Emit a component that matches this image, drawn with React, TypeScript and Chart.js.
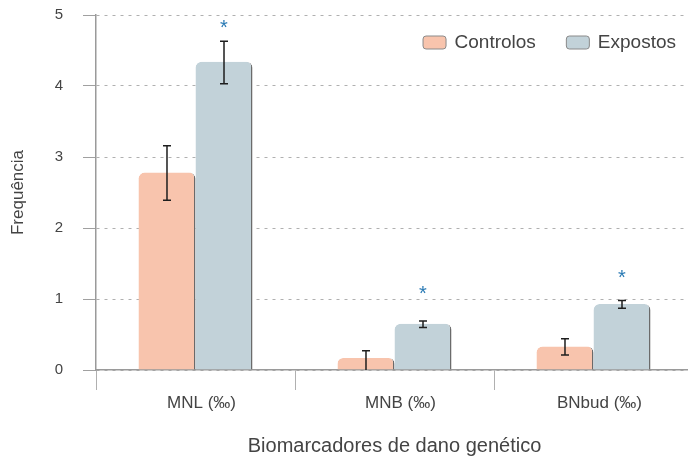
import React, { useEffect, useRef } from "react";
import { Chart, registerables } from "chart.js";

Chart.register(...registerables);

const categories = ["MNL (‰)", "MNB (‰)", "BNbud (‰)"];
const seriesNames = ["Controlos", "Expostos"];
const controlos = [2.78, 0.17, 0.33];
const expostos = [4.34, 0.65, 0.93];
const controlosLow = [2.39, -0.05, 0.21];
const controlosHigh = [3.16, 0.27, 0.44];
const expostosLow = [4.03, 0.6, 0.87];
const expostosHigh = [4.63, 0.69, 0.98];
const starPositions = [4.86, 1.11, 1.34];
const yTicks = [0, 1, 2, 3, 4, 5];

const FONT = '"Liberation Sans", Arial, Helvetica, sans-serif';
const controlosColor = "#f8c4ad";
const expostosColor = "#c2d2d9";
const textColor = "#444444";

const errorBarsPlugin = {
  id: "errorBars",
  afterDatasetsDraw(chart: any) {
    const ctx = chart.ctx;
    const y = chart.scales.y;
    const area = chart.chartArea;
    const lows = [controlosLow, expostosLow];
    const highs = [controlosHigh, expostosHigh];
    ctx.save();
    ctx.beginPath();
    ctx.rect(area.left, area.top - 20, area.right - area.left, area.bottom - area.top + 20);
    ctx.clip();
    ctx.strokeStyle = "#1e1e1e";
    ctx.lineWidth = 1.5;
    chart.data.datasets.forEach((_ds: any, di: number) => {
      const meta = chart.getDatasetMeta(di);
      meta.data.forEach((el: any, j: number) => {
        const x = el.x;
        const yl = y.getPixelForValue(lows[di][j]);
        const yh = y.getPixelForValue(highs[di][j]);
        ctx.beginPath();
        ctx.moveTo(x, yl);
        ctx.lineTo(x, yh);
        ctx.moveTo(x - 4, yh);
        ctx.lineTo(x + 4, yh);
        ctx.moveTo(x - 4, yl);
        ctx.lineTo(x + 4, yl);
        ctx.stroke();
      });
    });
    ctx.restore();

    // significance stars
    const meta = chart.getDatasetMeta(1);
    ctx.save();
    ctx.fillStyle = "#2b7bb5";
    ctx.font = `20px ${FONT}`;
    ctx.textAlign = "center";
    ctx.textBaseline = "alphabetic";
    meta.data.forEach((el: any, j: number) => {
      const yc = y.getPixelForValue(starPositions[j]);
      ctx.fillText("*", el.x, yc + 9);
    });
    ctx.restore();
  },
};

const legendPlugin = {
  id: "customLegend",
  afterDraw(chart: any) {
    const ctx = chart.ctx;
    const area = chart.chartArea;
    const colors = [controlosColor, expostosColor];
    ctx.save();
    ctx.font = `19px ${FONT}`;
    ctx.textBaseline = "middle";
    ctx.textAlign = "left";
    const boxW = 23;
    const boxH = 13;
    const gap = 9;
    const itemGap = 30;
    const widths = seriesNames.map((n) => boxW + gap + ctx.measureText(n).width);
    const total = widths.reduce((a, b) => a + b, 0) + itemGap * (seriesNames.length - 1);
    let x = area.right - 17 - total;
    const yc = area.top + 27;
    seriesNames.forEach((name, i) => {
      ctx.beginPath();
      ctx.roundRect(x + 0.5, yc - boxH / 2 + 0.5, boxW, boxH, 3);
      ctx.fillStyle = colors[i];
      ctx.fill();
      ctx.strokeStyle = "#8a8a8a";
      ctx.lineWidth = 1;
      ctx.stroke();
      ctx.fillStyle = textColor;
      ctx.fillText(name, x + boxW + gap, yc + 1);
      x += widths[i] + itemGap;
    });
    ctx.restore();
  },
};

export default function App() {
  const ref = useRef<HTMLCanvasElement | null>(null);

  useEffect(() => {
    document.body.style.margin = "0";
    if (!ref.current) return;
    Chart.defaults.font.family = FONT;
    const chart = new Chart(ref.current, {
      type: "bar",
      data: {
        labels: categories,
        datasets: [
          {
            label: seriesNames[0],
            data: controlos,
            backgroundColor: controlosColor,
            borderColor: "#6a6a6a",
            borderWidth: { top: 0, left: 0, bottom: 0, right: 1.5 },
            borderRadius: { topLeft: 6, topRight: 6, bottomLeft: 0, bottomRight: 0 },
            borderSkipped: false,
          },
          {
            label: seriesNames[1],
            data: expostos,
            backgroundColor: expostosColor,
            borderColor: "#6a6a6a",
            borderWidth: { top: 0, left: 0, bottom: 0, right: 1.5 },
            borderRadius: { topLeft: 6, topRight: 6, bottomLeft: 0, bottomRight: 0 },
            borderSkipped: false,
          },
        ],
      },
      options: {
        responsive: false,
        animation: false,
        devicePixelRatio: 1,
        layout: { padding: { top: 15, right: 0, left: 0, bottom: 0 } },
        datasets: {
          bar: { categoryPercentage: 0.573, barPercentage: 1.0 },
        },
        plugins: {
          legend: { display: false },
          tooltip: { enabled: false },
        },
        scales: {
          x: {
            afterFit: (s: any) => {
              s.height = 86;
              s.paddingLeft = 0;
              s.paddingRight = 0;
            },
            grid: {
              offset: true,
              drawOnChartArea: false,
              drawTicks: true,
              tickLength: 20,
              color: "#b0b0b0",
            },
            border: { color: "#9a9a9a", width: 1.5 },
            ticks: {
              color: textColor,
              font: { size: 17 },
              padding: 3,
              labelOffset: 6,
            },
            title: {
              display: true,
              text: "Biomarcadores de dano genético",
              color: textColor,
              font: { size: 20, lineHeight: 1 },
              padding: { top: 0, bottom: 0 },
            },
          },
          y: {
            min: 0,
            max: 5,
            afterFit: (s: any) => {
              s.width = 96;
              s.paddingTop = 0;
              s.paddingBottom = 0;
            },
            afterBuildTicks: (s: any) => {
              s.ticks = yTicks.map((v) => ({ value: v }));
            },
            grid: {
              color: "#b0b0b0",
              tickLength: 13,
              tickColor: "#a0a0a0",
            },
            border: { display: true, color: "#9a9a9a", dash: [3, 5], width: 1.5 },
            ticks: {
              color: textColor,
              font: { size: 15 },
              padding: 20,
            },
            title: {
              display: true,
              text: "Frequência",
              color: textColor,
              font: { size: 17, lineHeight: 1 },
              padding: { top: 9.5, bottom: 0 },
            },
          },
        },
      },
      plugins: [errorBarsPlugin, legendPlugin],
    });
    return () => chart.destroy();
  }, []);

  return (
    <div style={{ width: 688, height: 456, overflow: "hidden", position: "relative", background: "#fff" }}>
      <canvas ref={ref} width={693} height={456} style={{ display: "block", width: 693, height: 456 }} />
    </div>
  );
}
